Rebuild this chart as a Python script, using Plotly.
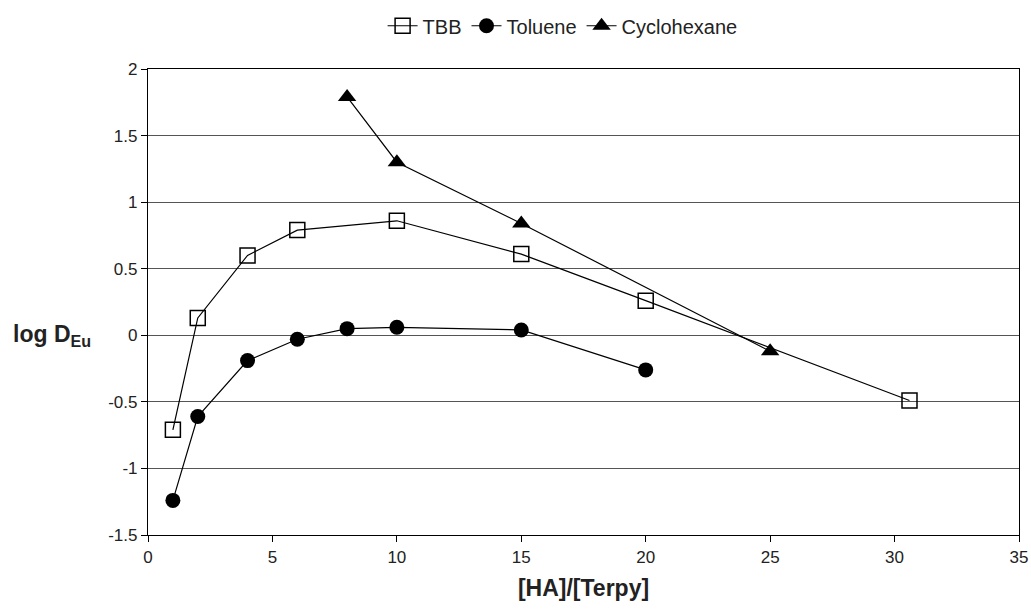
import plotly.graph_objects as go

# Distribution ratio data
tbb_x = [1, 2, 4, 6, 10, 15, 20, 30.6]
tbb_y = [-0.71, 0.13, 0.60, 0.79, 0.86, 0.61, 0.26, -0.49]

tol_x = [1, 2, 4, 6, 8, 10, 15, 20]
tol_y = [-1.24, -0.61, -0.19, -0.03, 0.05, 0.06, 0.04, -0.26]

cyc_x = [8, 10, 15, 25]
cyc_y = [1.79, 1.30, 0.84, -0.12]

x_ticks = [0, 5, 10, 15, 20, 25, 30, 35]
y_ticks = [-1.5, -1, -0.5, 0, 0.5, 1, 1.5, 2]
y_tick_labels = ["-1.5", "-1", "-0.5", "0", "0.5", "1", "1.5", "2"]

line = dict(color="black", width=1.2)

fig = go.Figure()
fig.add_trace(go.Scatter(
    x=tbb_x, y=tbb_y, name="TBB", mode="lines+markers", line=line,
    marker=dict(symbol="square-open", size=15, color="black", line=dict(width=1.5))))
fig.add_trace(go.Scatter(
    x=tol_x, y=tol_y, name="Toluene", mode="lines+markers", line=line,
    marker=dict(symbol="circle", size=15, color="black")))
fig.add_trace(go.Scatter(
    x=cyc_x, y=cyc_y, name="Cyclohexane", mode="lines+markers", line=line,
    marker=dict(symbol="triangle-up", size=16, color="black")))

fig.update_layout(
    width=1031, height=613,
    margin=dict(l=148, r=12, t=69, b=78),
    paper_bgcolor="white", plot_bgcolor="white",
    font=dict(family="Liberation Sans, Arial, sans-serif", size=17, color="#222"),
    showlegend=True,
    legend=dict(orientation="h", x=0.476, xanchor="center",
                yref="container", y=0.958, yanchor="middle",
                font=dict(size=20), itemwidth=30, tracegroupgap=0),
    xaxis=dict(range=[0, 35], tickvals=x_ticks, showgrid=False, zeroline=False,
               showline=True, linecolor="black", linewidth=1.2, mirror=True,
               ticks="outside", ticklen=6, tickcolor="black", automargin=False,
               title=dict(text="<b>[HA]/[Terpy]</b>", font=dict(size=23), standoff=14)),
    yaxis=dict(range=[-1.5, 2], tickvals=y_ticks, ticktext=y_tick_labels,
               showgrid=True, gridcolor="#555", automargin=False,
               gridwidth=1, zeroline=False, showline=True, linecolor="black",
               linewidth=1.2, mirror=True, ticks="outside", ticklen=6, tickcolor="black"),
    annotations=[dict(text="<b>log D<sub>Eu</sub></b>", xref="paper", yref="y",
                      x=-0.157, y=0, xanchor="left", yanchor="middle",
                      showarrow=False, font=dict(size=23))],
)

fig.write_html("out.html")
